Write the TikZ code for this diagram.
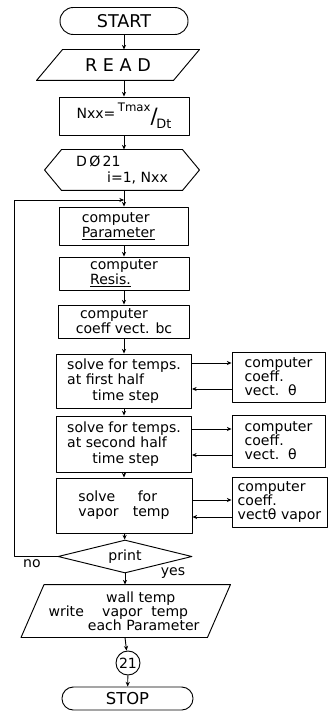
\documentclass[tikz,border=0pt]{standalone}
\usepackage{fontspec}
\setmainfont{DejaVu Sans}
\usetikzlibrary{arrows.meta,shapes.geometric,calc}

\begin{document}
\begin{tikzpicture}[x=0.03cm,y=-0.03cm,>={Stealth[length=4pt,width=3.5pt]},
 line width=0.8pt,line join=round,
 every node/.style={inner sep=1pt},
 box/.style={draw,align=left,font=\fontsize{12}{13}\selectfont},
 sub/.style={draw,align=left,font=\fontsize{12}{12}\selectfont},
 term/.style={draw,rounded corners=0.4cm,font=\fontsize{15}{16}\selectfont},
 io/.style={font=\fontsize{12}{13}\selectfont},
 lbl/.style={font=\fontsize{12}{13}\selectfont}]
\useasboundingbox (0,0) rectangle (331,713);
% start, read, loop count
\node[term,minimum width=3.84cm,minimum height=0.81cm] (start) at (124,21) {START};
\node[io,font=\fontsize{15}{16}\selectfont,minimum width=4.08cm,minimum height=0.9cm] (read) at (118,65) {R E A D};
\draw ($(read.north west)+(13,0)$) -- ($(read.north east)+(13,0)$)
 -- ($(read.south east)+(-13,0)$) -- ($(read.south west)+(-13,0)$) -- cycle;
\node[box,align=center,minimum width=3.9cm,minimum height=1.14cm] (nxx) at (124,116)
 {Nxx=\,\raisebox{0.9ex}{\fontsize{10}{10}\selectfont Tmax}\raisebox{-0.6ex}{\scalebox{1.5}{/}}\hspace{-1pt}\raisebox{-1.3ex}{\fontsize{11}{11}\selectfont Dt}};
\node[io,align=left,minimum width=3.6cm,minimum height=1.2cm] (do) at (122,170)
 {D\,Ø\,21\hspace*{2em}\\\hspace*{2.2em}i=1, Nxx};
\draw (do.north west) -- (do.north east) -- ($(do.east)+(17,0)$) -- (do.south east)
 -- (do.south west) -- ($(do.west)+(-17,0)$) -- cycle;
% loop body
\node[box,minimum width=3.87cm,minimum height=1.14cm] (param) at (124,226) {computer\\\underline{Parameter}\hspace*{0.8em}};
\node[box,minimum width=3.9cm,minimum height=0.99cm] (resis) at (124,273.5) {computer\\\underline{Resis.}\hspace*{0.8em}};
\node[box,minimum width=3.93cm,minimum height=0.99cm] (coeff) at (124,321.5) {\hspace*{0.3em}computer\\coeff vect. bc};
\node[box,minimum width=4.05cm,minimum height=1.62cm] (solve1) at (124,381) {solve for temps.\\at first half\\\hspace*{1.8em}time step};
\node[box,minimum width=4.05cm,minimum height=1.68cm] (solve2) at (124,444) {solve for temps.\\at second half\\\hspace*{1.8em}time step};
\node[box,minimum width=4.08cm,minimum height=1.65cm] (solve3) at (124,505.5) {solve\hspace{1.6em}for\hspace*{0.6em}\\vapor\hspace{1em}temp};
% coefficient boxes
\node[sub,minimum width=2.79cm,minimum height=1.5cm] (right1) at (278.5,377) {computer\\coeff.\\vect.\ \ θ};
\node[sub,minimum width=2.79cm,minimum height=1.56cm] (right2) at (278.5,441) {computer\\coeff.\\vect.\ \ θ};
\node[sub,minimum width=2.85cm,minimum height=1.5cm,inner sep=0.5pt] (right3) at (279.5,502) {computer\\coeff.\\vectθ vapor};
% print test and output
\node[diamond,draw,aspect=4,inner sep=0pt,minimum width=4.02cm,minimum height=0.99cm,font=\fontsize{12}{13}\selectfont] (print) at (125,556.5) {print};
\node[lbl] (no) at (32,564) {no};
\node[lbl] (yes) at (173,573) {yes};
\node[io,align=left,minimum width=5.46cm,minimum height=1.56cm] (output) at (124,611)
 {\hspace*{4.1em}wall temp\\[-1pt]write\hspace{1.3em}vapor\ \ temp\\[-1pt]\hspace*{2.8em}each Parameter};
\draw ($(output.north west)+(11.5,0)$) -- ($(output.north east)+(15,0)$)
 -- ($(output.south east)+(-8,0)$) -- ($(output.south west)+(-11.5,0)$) -- cycle;
\node[circle,draw,minimum size=0.72cm,inner sep=0pt,font=\fontsize{12}{13}\selectfont] (c21) at (128,663) {21};
\node[term,font=\fontsize{14}{15}\selectfont,minimum width=3.93cm,minimum height=0.69cm,rounded corners=0.34cm] (stop) at (127.5,698.5) {STOP};
\coordinate (join) at (124,200);
\coordinate (back) at (14,200);
\path[->]
 (start) edge (start |- read.north)
 (start |- read.south) edge (nxx)
 (nxx) edge (nxx |- do.north)
 (nxx |- do.south) edge (param)
 (param) edge (resis)
 (resis) edge (coeff)
 (coeff) edge (solve1)
 (solve1) edge (solve2)
 (solve2) edge (solve3)
 (solve3) edge (print)
 (print) edge (print |- output.north)
 (print |- output.south) edge (c21)
 (c21) edge (stop)
 ([yshift=0.54cm]solve1.east) edge ([yshift=0.54cm]solve1.east -| right1.west)
 ([yshift=-0.24cm]solve1.east -| right1.west) edge ([yshift=-0.24cm]solve1.east)
 ([yshift=0.45cm]solve2.east) edge ([yshift=0.45cm]solve2.east -| right2.west)
 ([yshift=-0.33cm]solve2.east -| right2.west) edge ([yshift=-0.33cm]solve2.east)
 ([yshift=0.165cm]solve3.east) edge ([yshift=0.165cm]solve3.east -| right3.west)
 ([yshift=-0.345cm]solve3.east -| right3.west) edge ([yshift=-0.345cm]solve3.east);
\draw[->] (print.west) -| (back) -- (join);
\end{tikzpicture}
\end{document}
